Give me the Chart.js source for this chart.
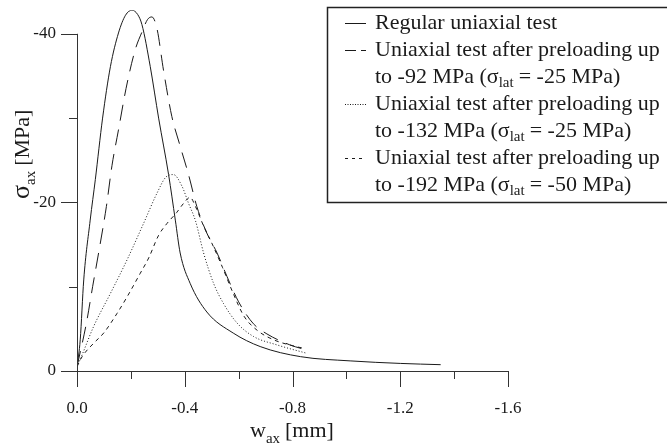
<!DOCTYPE html>
<html>
<head>
<meta charset="utf-8">
<script src="https://cdn.jsdelivr.net/npm/chart.js@4.4.0/dist/chart.umd.min.js"></script>
<style>
  html, body { margin: 0; padding: 0; background: #fff; }
  #wrap { width: 667px; height: 447px; }
</style>
</head>
<body>
<div id="wrap"><canvas id="chart" width="667" height="447"></canvas></div>
<script>
// w_ax [mm] and sigma_ax [MPa]
const wRegular = [0, -0.012, -0.025, -0.049, -0.068, -0.095, -0.124, -0.154, -0.18, -0.204, -0.225, -0.241, -0.272, -0.303, -0.34, -0.365, -0.383, -0.42, -0.482, -0.58, -0.68, -0.83, -1.014, -1.2, -1.35];
const sRegular = [-0.5, -3.7, -10.8, -17.9, -22.7, -30.0, -36.1, -40.1, -42.2, -42.8, -42.3, -41.1, -36.1, -30.0, -23.3, -17.9, -14.0, -10.4, -7.0, -4.5, -2.9, -1.7, -1.2, -0.9, -0.75];

const wPre92 = [0, -0.035, -0.058, -0.084, -0.109, -0.130, -0.154, -0.182, -0.216, -0.241, -0.262, -0.278, -0.297, -0.321, -0.352, -0.38, -0.414, -0.445, -0.48, -0.52, -0.557, -0.6, -0.655, -0.705, -0.79, -0.84];
const sPre92 = [-0.5, -5.7, -10.0, -14.7, -19.5, -24.4, -28.6, -33.5, -38.1, -40.2, -41.7, -42.0, -40.6, -35.7, -30.2, -27.0, -23.3, -19.5, -16.5, -14.0, -11.2, -8.2, -5.6, -4.4, -3.1, -2.6];

const wPre132 = [0, -0.02, -0.062, -0.124, -0.186, -0.247, -0.297, -0.33, -0.358, -0.39, -0.414, -0.44, -0.47, -0.507, -0.544, -0.594, -0.655, -0.742, -0.853];
const sPre132 = [-0.5, -2.0, -5.3, -9.2, -13.2, -17.5, -21.1, -23.0, -23.3, -21.9, -19.9, -17.8, -14.0, -10.4, -8.0, -5.7, -4.1, -3.1, -2.1];

const wPre192 = [0, -0.019, -0.062, -0.099, -0.148, -0.186, -0.235, -0.266, -0.303, -0.334, -0.37, -0.396, -0.42, -0.44, -0.47, -0.5, -0.54, -0.58, -0.62, -0.67, -0.73, -0.8, -0.84];
const sPre192 = [-0.5, -1.7, -3.3, -4.5, -6.8, -8.8, -11.6, -13.4, -16.1, -17.5, -18.8, -19.9, -20.6, -19.5, -17.2, -15.2, -12.3, -9.2, -6.5, -4.8, -3.7, -3.0, -2.7];

const xTicks = [0, -0.2, -0.4, -0.6, -0.8, -1.0, -1.2, -1.4, -1.6];
const xLabelTicks = [0, -0.4, -0.8, -1.2, -1.6];
const yTicks = [0, -10, -20, -30, -40];
const yLabelTicks = [0, -20, -40];

const legendRows = [
  ['Regular uniaxial test'],
  ['Uniaxial test after preloading up', 'to -92 MPa (', '= -25 MPa)'],
  ['Uniaxial test after preloading up', 'to -132 MPa (', '= -25 MPa)'],
  ['Uniaxial test after preloading up', 'to -192 MPa (', '= -50 MPa)']
];

const SERIF = "'Liberation Serif', 'Times New Roman', serif";
const INK = '#1a1a1a';

const pts = (w, s) => w.map((x, i) => ({ x: x, y: s[i] }));

const dashes = [[], [16, 9], [1, 2], [4, 4]];
const legendDashes = [[], [11, 5], [1, 1.5], [3, 4]];

const series = [
  pts(wRegular, sRegular),
  pts(wPre92, sPre92),
  pts(wPre132, sPre132),
  pts(wPre192, sPre192)
];

/* ── axes, titles and legend box ───────────────────────── */
const figurePlugin = {
  id: 'figure',
  afterDraw(chart) {
    const ctx = chart.ctx;
    const xs = chart.scales.x, ys = chart.scales.y;
    const x0 = xs.getPixelForValue(0), y0 = ys.getPixelForValue(0);
    ctx.save();
    ctx.strokeStyle = '#333';
    ctx.lineWidth = 1;

    // axis lines
    ctx.beginPath();
    ctx.moveTo(x0 + 0.5, y0);
    ctx.lineTo(x0 + 0.5, ys.getPixelForValue(-40));
    ctx.moveTo(x0, y0 + 0.5);
    ctx.lineTo(xs.getPixelForValue(-1.6), y0 + 0.5);
    ctx.stroke();

    // tick marks
    ctx.beginPath();
    yTicks.forEach(v => {
      const py = Math.round(ys.getPixelForValue(v)) + 0.5;
      const len = yLabelTicks.includes(v) ? 16 : 8;
      ctx.moveTo(x0 - len, py);
      ctx.lineTo(x0, py);
    });
    xTicks.forEach(v => {
      const px = Math.round(xs.getPixelForValue(v)) + 0.5;
      const len = xLabelTicks.includes(v) ? 16 : 8;
      ctx.moveTo(px, y0);
      ctx.lineTo(px, y0 + len);
    });
    ctx.stroke();

    ctx.fillStyle = INK;
    ctx.textBaseline = 'alphabetic';

    // x title: w_ax [mm]
    let tx = 250, ty = 437;
    ctx.textAlign = 'left';
    ctx.font = '22px ' + SERIF;
    ctx.fillText('w', tx, ty);
    tx += ctx.measureText('w').width;
    ctx.font = '15px ' + SERIF;
    ctx.fillText('ax', tx, ty + 6);
    tx += ctx.measureText('ax').width + 5;
    ctx.font = '22px ' + SERIF;
    ctx.fillText('[mm]', tx, ty);

    // y title: sigma_ax [MPa], rotated
    ctx.save();
    ctx.translate(29, 199);
    ctx.rotate(-Math.PI / 2);
    tx = 0;
    ctx.font = '26px ' + SERIF;
    ctx.fillText('σ', tx, 0);
    tx += ctx.measureText('σ').width;
    ctx.font = '15px ' + SERIF;
    ctx.fillText('ax', tx, 6);
    tx += ctx.measureText('ax').width + 5;
    ctx.font = '22px ' + SERIF;
    ctx.fillText('[MPa]', tx, 0);
    ctx.restore();

    // legend box
    ctx.strokeStyle = '#222';
    ctx.lineWidth = 1.5;
    ctx.strokeRect(327.5, 7.5, 360, 195);

    const rowY = k => 23 + 27 * k;
    let row = 0;
    legendRows.forEach((entry, i) => {
      const ly = rowY(row);
      ctx.beginPath();
      ctx.lineWidth = 1;
      ctx.strokeStyle = INK;
      ctx.setLineDash(legendDashes[i]);
      ctx.moveTo(345, ly + 0.5);
      ctx.lineTo(366, ly + 0.5);
      ctx.stroke();
      ctx.setLineDash([]);

      ctx.textBaseline = 'middle';
      ctx.font = '22px ' + SERIF;
      ctx.fillText(entry[0], 375, ly);
      row++;
      if (entry.length > 1) {
        const y2 = rowY(row);
        let px = 375;
        ctx.font = '22px ' + SERIF;
        ctx.fillText(entry[1], px, y2);
        px += ctx.measureText(entry[1]).width;
        ctx.fillText('σ', px, y2);
        px += ctx.measureText('σ').width;
        ctx.font = '15px ' + SERIF;
        ctx.fillText('lat', px, y2 + 6);
        px += ctx.measureText('lat').width + 5;
        ctx.font = '22px ' + SERIF;
        ctx.fillText(entry[2], px, y2);
        row++;
      }
    });
    ctx.restore();
  }
};

// invisible tick marks so labels sit away from the axis without extra padding
const hiddenGrid = { display: true, drawOnChartArea: false, drawTicks: true, color: 'rgba(0,0,0,0)', tickColor: 'rgba(0,0,0,0)' };

new Chart(document.getElementById('chart'), {
  type: 'line',
  data: {
    datasets: series.map((d, i) => ({
      data: d,
      borderColor: INK,
      borderWidth: 1,
      borderDash: dashes[i],
      pointRadius: 0,
      fill: false,
      cubicInterpolationMode: 'monotone'
    }))
  },
  options: {
    responsive: false,
    animation: false,
    devicePixelRatio: 1,
    layout: { padding: { top: 0, right: 159, bottom: 0, left: 0 } },
    plugins: { legend: { display: false }, tooltip: { enabled: false } },
    scales: {
      x: {
        type: 'linear', reverse: true, min: -1.6, max: 0,
        afterBuildTicks: s => { s.ticks = xTicks.map(v => ({ value: v })); },
        afterFit: s => { s.height = 76; },
        grid: { ...hiddenGrid, tickLength: 27 },
        border: { display: false },
        ticks: {
          padding: 0, maxRotation: 0, autoSkip: false,
          font: { family: SERIF, size: 17 }, color: INK,
          callback: v => xLabelTicks.includes(v) ? v.toFixed(1) : ''
        }
      },
      y: {
        type: 'linear', reverse: true, min: -42.8, max: 0,
        afterBuildTicks: s => { s.ticks = yTicks.map(v => ({ value: v })); },
        afterFit: s => { s.width = 77; },
        grid: { ...hiddenGrid, tickLength: 21 },
        border: { display: false },
        ticks: {
          padding: 0, autoSkip: false,
          font: { family: SERIF, size: 17 }, color: INK,
          callback: v => yLabelTicks.includes(v) ? String(v) : ''
        }
      }
    }
  },
  plugins: [figurePlugin]
});
</script>
</body>
</html>
